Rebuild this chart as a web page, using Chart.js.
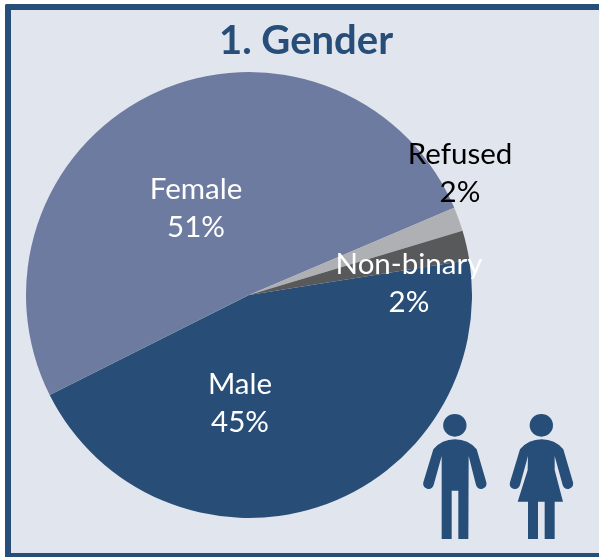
<!DOCTYPE html>
<html>
<head>
<meta charset="utf-8">
<style>
html,body{margin:0;padding:0;background:#fff;width:599px;height:557px;overflow:hidden}
#frame{position:absolute;left:5px;top:4px;width:594px;height:553px;box-sizing:border-box;background:#E1E5EE;border-left:6px solid #274E79;border-top:6px solid #274E79;border-bottom:4px solid #274E79;border-radius:2px 0 0 0}
canvas{position:absolute;left:0;top:0}
svg{position:absolute;left:0;top:0}
</style>
<script src="https://cdn.jsdelivr.net/npm/chart.js@4"></script>
</head>
<body>
<div id="frame"></div>
<canvas id="c" width="599" height="557"></canvas>
<svg width="599" height="557" viewBox="0 0 599 557">
<g transform="translate(400,390) scale(0.33333)" fill="#274E79">
<ellipse cx="164.500" cy="106" rx="35" ry="34"/>
<path d="M100 178Q125 148 165 148Q205 148 230 178L259 277Q262 292 246 297Q233 299 228 285L206 198L205 447L175 447L175 302L155 302L155 447L125 447L125 198L101 285Q96 299 83 297Q67 292 70 277Z"/>
<ellipse cx="424" cy="106" rx="35" ry="34"/>
<path d="M360 178Q385 148 425 148Q465 148 490 178L519 277Q522 292 506 297Q493 299 488 285L464 198L464 240L489 335L464 335L464 447L434 447L434 335L414 335L414 447L384 447L384 335L353 335L383 240L384 198L360 285Q355 299 342 297Q326 292 330 277Z"/>
</g>
</svg>
<script>
const titleText = "1. Gender";
const categories = ["Male", "Female", "Refused", "Non-binary"];
const values = [45.1, 51.0, 1.75, 2.15];
const percentLabels = ["45%", "51%", "2%", "2%"];
const sliceColors = ["#284E78", "#6E7BA0", "#AEB0B3", "#58595B"];
const labelColors = ["#FFFFFF", "#FFFFFF", "#000000", "#FFFFFF"];
const labelOffsets = [[-9, 108], [-53, -87], [211, -122], [160, -12]];
const labelFont = "29.5px Lato";

const textPlugin = {
  id: "pieText",
  afterDatasetsDraw(chart) {
    const ctx = chart.ctx;
    const arc = chart.getDatasetMeta(0).data[0];
    ctx.save();
    ctx.textAlign = "center";
    ctx.textBaseline = "middle";
    ctx.font = "bold 40px Lato";
    ctx.fillStyle = "#274E79";
    ctx.fillText(titleText, 306, 41);
    ctx.font = labelFont;
    categories.forEach((name, i) => {
      const cx = arc.x + labelOffsets[i][0];
      const cy = arc.y + labelOffsets[i][1];
      ctx.fillStyle = labelColors[i];
      ctx.fillText(name, cx, cy - 19);
      ctx.fillText(percentLabels[i], cx, cy + 19);
    });
    ctx.restore();
  }
};

new Chart(document.getElementById("c"), {
  type: "pie",
  data: {
    labels: categories,
    datasets: [{ data: values, backgroundColor: sliceColors, borderWidth: 0 }]
  },
  options: {
    responsive: false,
    animation: false,
    rotation: 81,
    layout: { padding: { left: 26, top: 72, right: 127, bottom: 39 } },
    plugins: { legend: { display: false }, tooltip: { enabled: false }, title: { display: false } }
  },
  plugins: [textPlugin]
});
</script>
</body>
</html>
